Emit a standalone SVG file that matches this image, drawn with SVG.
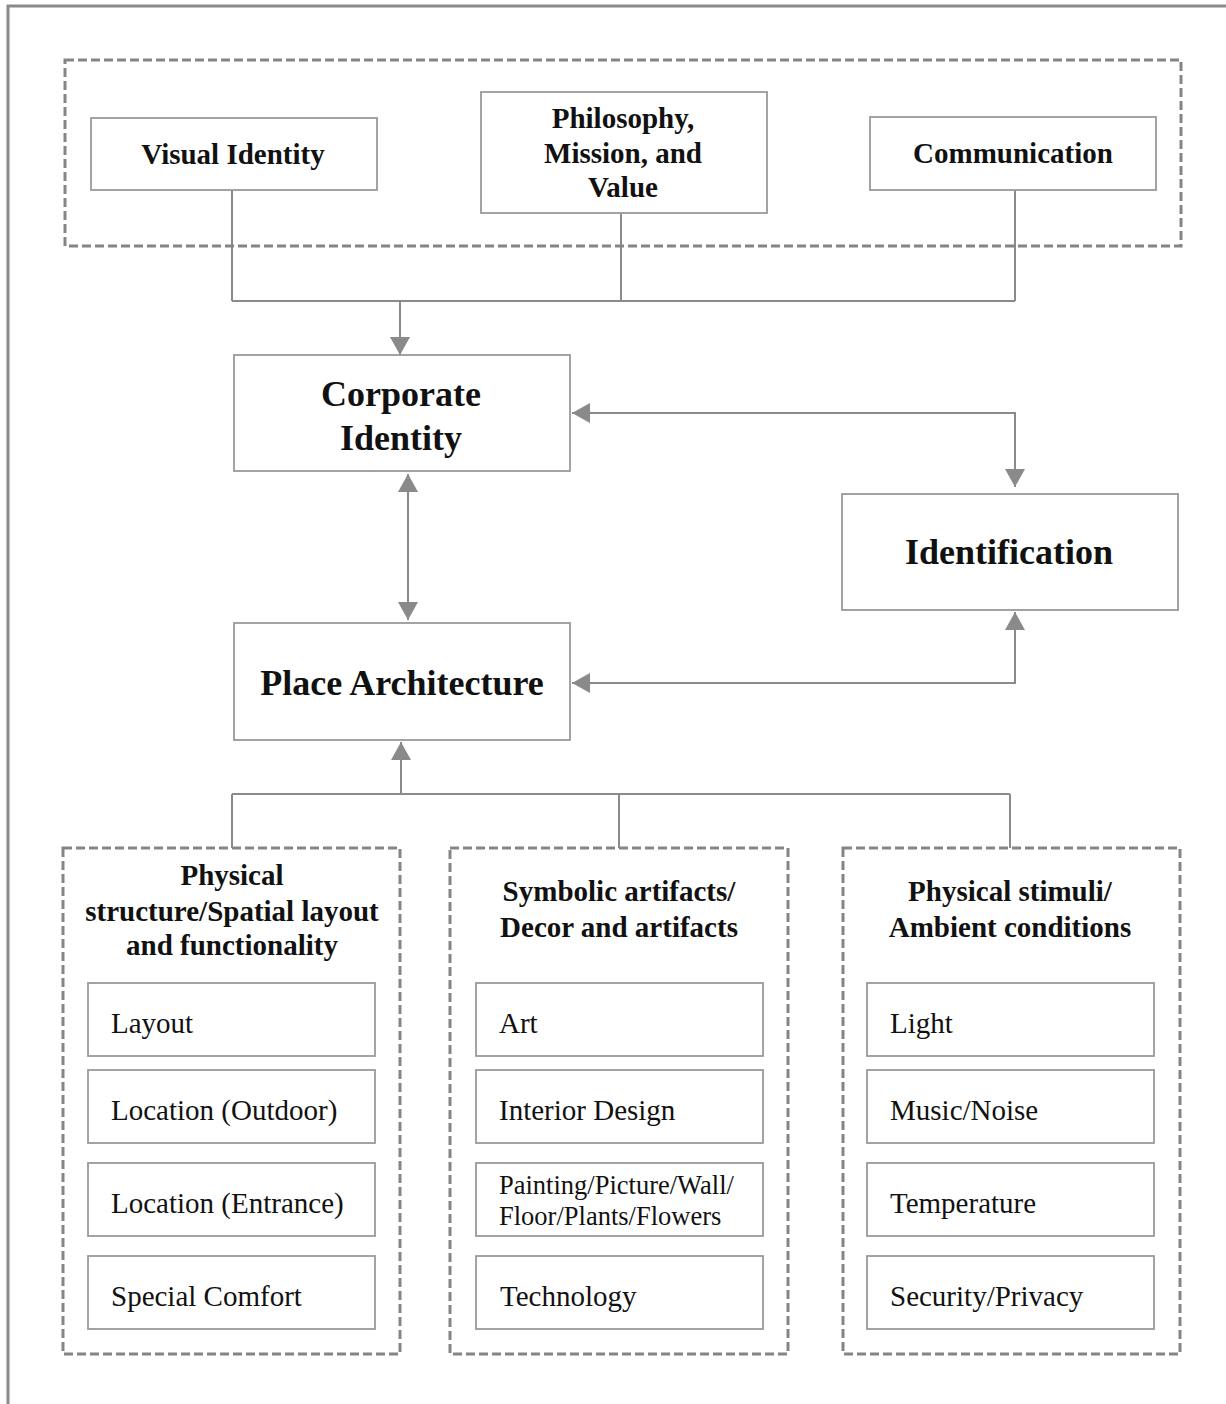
<svg xmlns="http://www.w3.org/2000/svg" width="1226" height="1404" viewBox="0 0 1226 1404">
<style>
.frame{fill:none;stroke:#8a8a8a;stroke-width:3}
.dash{fill:none;stroke:#858585;stroke-width:3;stroke-dasharray:9 4}
.box{fill:#fff;stroke:#9a9a9a;stroke-width:1.8}
.ln{fill:none;stroke:#8a8a8a;stroke-width:2}
.hb{font-family:"Liberation Serif","Times New Roman",serif;font-weight:bold;font-size:29px;fill:#111;text-anchor:middle}
.big{font-family:"Liberation Serif","Times New Roman",serif;font-weight:bold;font-size:36px;fill:#111;text-anchor:middle}
.it{font-family:"Liberation Serif","Times New Roman",serif;font-size:29px;fill:#111}
.sm{font-family:"Liberation Serif","Times New Roman",serif;font-size:26.5px;fill:#111}
</style>
<defs>
<marker id="ah" viewBox="0 0 18 20" refX="18" refY="10" markerWidth="18" markerHeight="20" markerUnits="userSpaceOnUse" orient="auto-start-reverse">
<path d="M0,0 L18,10 L0,20 z" fill="#8a8a8a"/>
</marker>
</defs>
<rect width="1226" height="1404" fill="#fff"/>
<rect class="frame" x="8" y="6" width="1240" height="1420"/>

<g id="connectors">
<path class="ln" d="M232 190 V301 M621 213 V301 M1015 190 V301 M232 301 H1015"/>
<path class="ln" d="M400 301 V355" marker-end="url(#ah)"/>
<path class="ln" d="M572 413 H1015 V487" marker-start="url(#ah)" marker-end="url(#ah)"/>
<path class="ln" d="M408 474 V620" marker-start="url(#ah)" marker-end="url(#ah)"/>
<path class="ln" d="M1015 612 V683 H572" marker-start="url(#ah)" marker-end="url(#ah)"/>
<path class="ln" d="M232 848 V794 M619 848 V794 M1010 848 V794 M232 794 H1010"/>
<path class="ln" d="M401 794 V742" marker-end="url(#ah)"/>
</g>

<g id="top-group">
<rect class="dash" x="65" y="60" width="1116" height="186"/>
</g>
<g id="visual-identity">
<rect class="box" x="91" y="118" width="286" height="72"/>
<text class="hb" x="233" y="164">Visual Identity</text>
</g>
<g id="philosophy">
<rect class="box" x="481" y="92" width="286" height="121"/>
<text class="hb" x="623" y="128">Philosophy,</text>
<text class="hb" x="623" y="163">Mission, and</text>
<text class="hb" x="623" y="197">Value</text>
</g>
<g id="communication">
<rect class="box" x="870" y="117" width="286" height="73"/>
<text class="hb" x="1013" y="163">Communication</text>
</g>

<g id="corporate-identity">
<rect class="box" x="234" y="355" width="336" height="116"/>
<text class="big" x="401" y="406">Corporate</text>
<text class="big" x="401" y="450">Identity</text>
</g>
<g id="identification">
<rect class="box" x="842" y="494" width="336" height="116"/>
<text class="big" x="1009" y="564">Identification</text>
</g>
<g id="place-architecture">
<rect class="box" x="234" y="623" width="336" height="117"/>
<text class="big" x="402" y="695">Place Architecture</text>
</g>

<g id="physical-structure">
<rect class="dash" x="63" y="848" width="337" height="506"/>
<text class="hb" x="232" y="885">Physical</text>
<text class="hb" x="232" y="921">structure/Spatial layout</text>
<text class="hb" x="232" y="955">and functionality</text>
<g id="layout"><rect class="box" x="88" y="983" width="287" height="73"/><text class="it" x="111" y="1033">Layout</text></g>
<g id="location-outdoor"><rect class="box" x="88" y="1070" width="287" height="73"/><text class="it" x="111" y="1120">Location (Outdoor)</text></g>
<g id="location-entrance"><rect class="box" x="88" y="1163" width="287" height="73"/><text class="it" x="111" y="1213">Location (Entrance)</text></g>
<g id="special-comfort"><rect class="box" x="88" y="1256" width="287" height="73"/><text class="it" x="111" y="1306">Special Comfort</text></g>
</g>

<g id="symbolic-artifacts">
<rect class="dash" x="450" y="848" width="338" height="506"/>
<text class="hb" x="619" y="901">Symbolic artifacts/</text>
<text class="hb" x="619" y="937">Decor and artifacts</text>
<g id="art"><rect class="box" x="476" y="983" width="287" height="73"/><text class="it" x="499" y="1033">Art</text></g>
<g id="interior-design"><rect class="box" x="476" y="1070" width="287" height="73"/><text class="it" x="499" y="1120">Interior Design</text></g>
<g id="painting"><rect class="box" x="476" y="1163" width="287" height="73"/><text class="sm" x="499" y="1194">Painting/Picture/Wall/</text><text class="sm" x="499" y="1225">Floor/Plants/Flowers</text></g>
<g id="technology"><rect class="box" x="476" y="1256" width="287" height="73"/><text class="it" x="500" y="1306">Technology</text></g>
</g>

<g id="physical-stimuli">
<rect class="dash" x="843" y="848" width="337" height="506"/>
<text class="hb" x="1010" y="901">Physical stimuli/</text>
<text class="hb" x="1010" y="937">Ambient conditions</text>
<g id="light"><rect class="box" x="867" y="983" width="287" height="73"/><text class="it" x="890" y="1033">Light</text></g>
<g id="music-noise"><rect class="box" x="867" y="1070" width="287" height="73"/><text class="it" x="890" y="1120">Music/Noise</text></g>
<g id="temperature"><rect class="box" x="867" y="1163" width="287" height="73"/><text class="it" x="890" y="1213">Temperature</text></g>
<g id="security-privacy"><rect class="box" x="867" y="1256" width="287" height="73"/><text class="it" x="890" y="1306">Security/Privacy</text></g>
</g>
</svg>
